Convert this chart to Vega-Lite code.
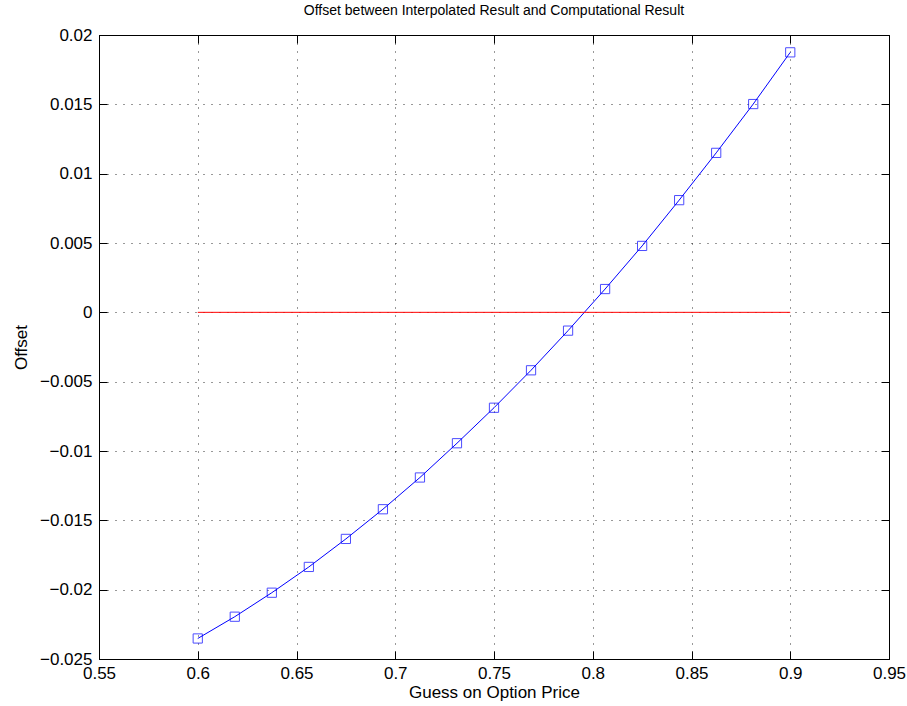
{
  "$schema": "https://vega.github.io/schema/vega-lite/v6.json",
  "width": 790,
  "height": 624,
  "autosize": "none",
  "padding": {"left": 99, "top": 35, "right": 18, "bottom": 47},
  "background": "white",
  "title": {"text": "Offset between Interpolated Result and Computational Result", "fontSize": 14, "fontWeight": "normal", "font": "Liberation Sans", "color": "black", "offset": 8},
  "config": {
    "view": {"stroke": "black", "strokeWidth": 1},
    "axis": {"labelFont": "Liberation Sans", "titleFont": "Liberation Sans", "labelFontSize": 17, "titleFontSize": 17, "titleFontWeight": "normal", "labelColor": "black", "titleColor": "black", "domainColor": "black", "tickColor": "black", "gridColor": "black", "gridDash": [1, 7], "gridOpacity": 0.8}
  },
  "datasets": {
    "curve": [
      {"price": 0.6, "offset": -0.02352},
      {"price": 0.61875, "offset": -0.02195},
      {"price": 0.6375, "offset": -0.02022},
      {"price": 0.65625, "offset": -0.01836},
      {"price": 0.675, "offset": -0.01634},
      {"price": 0.69375, "offset": -0.0142},
      {"price": 0.7125, "offset": -0.01191},
      {"price": 0.73125, "offset": -0.00944},
      {"price": 0.75, "offset": -0.00688},
      {"price": 0.76875, "offset": -0.00418},
      {"price": 0.7875, "offset": -0.00132},
      {"price": 0.80625, "offset": 0.00168},
      {"price": 0.825, "offset": 0.00479},
      {"price": 0.84375, "offset": 0.00809},
      {"price": 0.8625, "offset": 0.0115},
      {"price": 0.88125, "offset": 0.01502},
      {"price": 0.9, "offset": 0.01875}
    ],
    "zero": [
      {"price": 0.6, "offset": 0},
      {"price": 0.9, "offset": 0}
    ]
  },
  "resolve": {"axis": {"x": "independent", "y": "independent"}},
  "layer": [
    {
      "data": {"name": "curve"},
      "mark": {"type": "line", "color": "blue", "strokeWidth": 1},
      "encoding": {
        "x": {"field": "price", "type": "quantitative", "scale": {"domain": [0.55, 0.95], "nice": false, "zero": false},
          "axis": {"title": "Guess on Option Price", "values": [0.55, 0.6, 0.65, 0.7, 0.75, 0.8, 0.85, 0.9, 0.95], "format": ".2~f", "grid": true, "tickSize": -8, "labelPadding": 14, "titlePadding": 3, "labelFlush": false}},
        "y": {"field": "offset", "type": "quantitative", "scale": {"domain": [-0.025, 0.02], "nice": false, "zero": false},
          "axis": {"title": "Offset", "values": [-0.025, -0.02, -0.015, -0.01, -0.005, 0, 0.005, 0.01, 0.015, 0.02], "format": ".3~f", "grid": true, "tickSize": -8, "labelPadding": 15, "titlePadding": 9, "labelFlush": false}}
      }
    },
    {
      "data": {"name": "curve"},
      "mark": {"type": "point", "shape": "square", "filled": false, "color": "blue", "size": 85, "strokeWidth": 1},
      "encoding": {
        "x": {"field": "price", "type": "quantitative", "axis": null},
        "y": {"field": "offset", "type": "quantitative", "axis": null}
      }
    },
    {
      "data": {"name": "zero"},
      "mark": {"type": "line", "color": "red", "strokeWidth": 1},
      "encoding": {
        "x": {"field": "price", "type": "quantitative",
          "axis": {"orient": "top", "title": null, "labels": false, "grid": false, "domain": false, "tickSize": -8, "values": [0.55, 0.6, 0.65, 0.7, 0.75, 0.8, 0.85, 0.9, 0.95]}},
        "y": {"field": "offset", "type": "quantitative",
          "axis": {"orient": "right", "title": null, "labels": false, "grid": false, "domain": false, "tickSize": -8, "values": [-0.025, -0.02, -0.015, -0.01, -0.005, 0, 0.005, 0.01, 0.015, 0.02]}}
      }
    }
  ]
}
